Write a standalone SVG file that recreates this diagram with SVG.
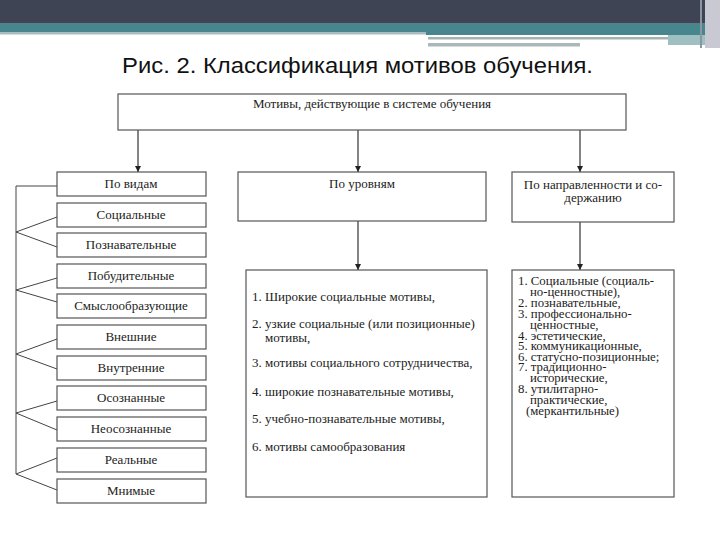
<svg xmlns="http://www.w3.org/2000/svg" width="720" height="540" viewBox="0 0 720 540">
<defs>
<marker id="ah" markerWidth="8" markerHeight="8" refX="6" refY="3" orient="auto" markerUnits="userSpaceOnUse">
<path d="M0,0 L6,3 L0,6 Z" fill="#222"/>
</marker>
<style>
.box{fill:#fff;stroke:#555;stroke-width:1.2}
.t{font-family:"Liberation Serif","Times New Roman",serif;font-size:13px;fill:#222}
.s{font-size:12.8px}
.c{text-anchor:middle}
.ln{stroke:#444;stroke-width:1;fill:none}
.ar{stroke:#333;stroke-width:1.2;fill:none;marker-end:url(#ah)}
</style>
</defs>
<rect width="720" height="540" fill="#fff"/>
<g id="header">
<rect x="0" y="0" width="720" height="23" fill="#3f4455"/>
<rect x="0" y="21" width="705" height="2" fill="#4a4052"/>
<rect x="0" y="23" width="705" height="9" fill="#47868c"/>
<rect x="0" y="32" width="426" height="2.5" fill="#a9bdc1"/>
<rect x="426" y="32" width="279" height="3" fill="#47868c"/>
<rect x="428" y="37" width="240" height="2.5" fill="#a3b3b3"/>
<rect x="428" y="43" width="152" height="3.5" fill="#a9b9b9"/>
<rect x="668" y="35" width="37" height="10" fill="#9fbfc3"/>
<rect x="705" y="0" width="15" height="48" fill="#c8c9d3"/>
<rect x="700" y="0" width="2" height="48" fill="#8a96a0"/>
</g>
<text x="122" y="73" font-family="'Liberation Sans',Arial,sans-serif" font-size="21.5" fill="#111" textLength="471" lengthAdjust="spacingAndGlyphs">Рис. 2. Классификация мотивов обучения.</text>

<g id="connectors">
<line class="ar" x1="138" y1="130" x2="138" y2="172"/>
<line class="ar" x1="358" y1="130" x2="358" y2="172"/>
<line class="ar" x1="580" y1="130" x2="580" y2="172"/>
<line class="ar" x1="358" y1="221" x2="358" y2="270"/>
<line class="ar" x1="580" y1="222" x2="580" y2="270"/>
<polyline class="ln" points="57,186 16,186 16,474"/>
<polyline class="ln" points="57,217 16,232 57,247"/>
<polyline class="ln" points="57,278 16,290 57,302"/>
<polyline class="ln" points="57,339 16,354 57,369"/>
<polyline class="ln" points="57,401 16,413 57,430"/>
<polyline class="ln" points="57,458 16,474 57,490"/>
</g>

<g id="n-top"><rect class="box" x="118" y="94" width="508" height="36"/><text class="t c" x="372" y="108">Мотивы, действующие в системе обучения</text></g>

<g id="n-vidy"><rect class="box" x="57" y="172" width="149" height="24"/><text class="t c" x="131" y="188">По видам</text></g>
<g id="n-soc"><rect class="box" x="57" y="203" width="149" height="24"/><text class="t c" x="131" y="219">Социальные</text></g>
<g id="n-pozn"><rect class="box" x="57" y="233" width="149" height="24"/><text class="t c" x="131" y="249">Познавательные</text></g>
<g id="n-pob"><rect class="box" x="57" y="264" width="149" height="24"/><text class="t c" x="131" y="280">Побудительные</text></g>
<g id="n-smysl"><rect class="box" x="57" y="294" width="149" height="24"/><text class="t c" x="131" y="310">Смыслообразующие</text></g>
<g id="n-vnesh"><rect class="box" x="57" y="325" width="149" height="24"/><text class="t c" x="131" y="341">Внешние</text></g>
<g id="n-vnutr"><rect class="box" x="57" y="356" width="149" height="24"/><text class="t c" x="131" y="372">Внутренние</text></g>
<g id="n-osozn"><rect class="box" x="57" y="386" width="149" height="24"/><text class="t c" x="131" y="402">Осознанные</text></g>
<g id="n-neosozn"><rect class="box" x="57" y="417" width="149" height="24"/><text class="t c" x="131" y="433">Неосознанные</text></g>
<g id="n-real"><rect class="box" x="57" y="448" width="149" height="24"/><text class="t c" x="131" y="464">Реальные</text></g>
<g id="n-mnim"><rect class="box" x="57" y="479" width="149" height="24"/><text class="t c" x="131" y="495">Мнимые</text></g>

<g id="n-urovni"><rect class="box" x="238" y="172" width="248" height="49"/><text class="t c" x="362" y="188">По уровням</text></g>
<g id="n-urovni-list"><rect class="box" x="246" y="270" width="241" height="227"/>
<text class="t"><tspan x="252" y="301">1.  Широкие социальные мотивы,</tspan><tspan x="252" y="328">2. узкие социальные (или позиционные)</tspan><tspan x="265" y="342">мотивы,</tspan><tspan x="252" y="367">3. мотивы социального сотрудничества,</tspan><tspan x="252" y="396">4. широкие познавательные мотивы,</tspan><tspan x="252" y="423">5. учебно-познавательные мотивы,</tspan><tspan x="252" y="451">6. мотивы самообразования</tspan></text>
</g>

<g id="n-napr"><rect class="box" x="512" y="172" width="162" height="50"/><text class="t c" x="593" y="189">По направленности и со-</text><text class="t c" x="593" y="202">держанию</text></g>
<g id="n-napr-list"><rect class="box" x="512" y="270" width="162" height="227"/>
<text class="t s"><tspan x="518" y="285">1. Социальные (социаль-</tspan><tspan x="530" y="296">но-ценностные),</tspan><tspan x="518" y="307">2. познавательные,</tspan><tspan x="518" y="318">3. профессионально-</tspan><tspan x="530" y="329">ценностные,</tspan><tspan x="518" y="340">4. эстетические,</tspan><tspan x="518" y="350">5. коммуникационные,</tspan><tspan x="518" y="361">6. статусно-позиционные;</tspan><tspan x="518" y="371">7. традиционно-</tspan><tspan x="530" y="382">исторические,</tspan><tspan x="518" y="393">8. утилитарно-</tspan><tspan x="530" y="404">практические,</tspan><tspan x="526" y="415">(меркантильные)</tspan></text>
</g>
</svg>
